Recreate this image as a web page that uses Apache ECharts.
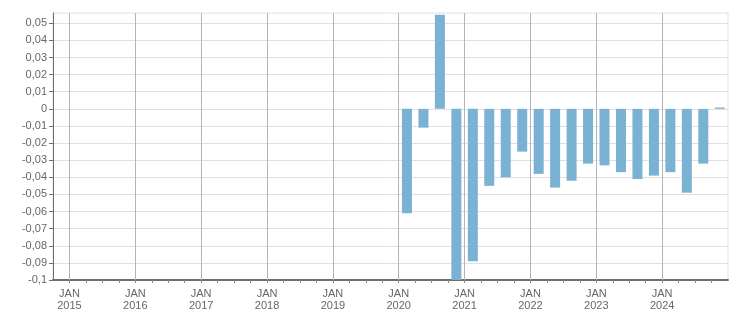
<!DOCTYPE html>
<html>
<head>
<meta charset="utf-8">
<script src="https://cdn.jsdelivr.net/npm/echarts@6/dist/echarts.min.js"></script>
<style>html,body{margin:0;padding:0;background:#fff}#c{width:751px;height:313px}</style>
</head>
<body>
<div id="c"></div>
<script>
const quarters = ['2020Q1','2020Q2','2020Q3','2020Q4','2021Q1','2021Q2','2021Q3','2021Q4','2022Q1','2022Q2','2022Q3','2022Q4','2023Q1','2023Q2','2023Q3','2023Q4','2024Q1','2024Q2','2024Q3','2024Q4'];
const values = [-0.061,-0.011,0.055,-0.1,-0.089,-0.045,-0.040,-0.025,-0.038,-0.046,-0.042,-0.032,-0.033,-0.037,-0.041,-0.039,-0.037,-0.049,-0.032,0.0008];
const yearTicks = [2015,2016,2017,2018,2019,2020,2021,2022,2023,2024];
const yTicks = [-0.1,-0.09,-0.08,-0.07,-0.06,-0.05,-0.04,-0.03,-0.02,-0.01,0,0.01,0.02,0.03,0.04,0.05];

// axis unit: quarters, 0 = Oct 2014, 1 = Jan 2015
const yearPos = y => (y - 2015) * 4 + 1;
const qCenter = s => (+s.slice(0,4) - 2015) * 4 + (+s.slice(5)) + 0.5;
const quarterBounds = [];
for (let i = 1; i <= 40; i++) quarterBounds.push(i);

const chart = echarts.init(document.getElementById('c'));
chart.setOption({
  animation: false,
  grid: { left: 53, right: 23, top: 13, bottom: 33, show: true, borderColor: '#e0e0e0', borderWidth: 1 },
  xAxis: {
    type: 'value', min: 0, max: 41,
    axisLine: { show: true, onZero: false, lineStyle: { color: '#6e6e6e', width: 2 } },
    axisTick: { show: true, length: 3, customValues: quarterBounds, lineStyle: { color: '#8a8a8a' } },
    axisLabel: {
      customValues: yearTicks.map(yearPos),
      formatter: v => 'JAN\n' + (Math.round((v - 1) / 4) + 2015),
      color: '#666', fontFamily: 'Liberation Sans', fontSize: 11, lineHeight: 12, margin: 8
    },
    splitLine: { show: false }
  },
  yAxis: {
    type: 'value', min: -0.1, max: 0.056, interval: 0.01,
    axisLine: { show: true, lineStyle: { color: '#6e6e6e', width: 1 } },
    axisTick: { show: true, length: 4, customValues: yTicks, lineStyle: { color: '#6e6e6e' } },
    axisLabel: {
      customValues: yTicks,
      formatter: v => Math.abs(v) < 1e-9 ? '0' : String(+v.toFixed(2)).replace('.', ','),
      color: '#666', fontFamily: 'Liberation Sans', fontSize: 11, margin: 6
    },
    splitLine: { show: true, lineStyle: { color: '#e0e0e0', width: 1 } }
  },
  series: [{
    type: 'bar',
    barWidth: 10,
    itemStyle: { color: '#7ab2d4' },
    data: quarters.map((q, i) => [qCenter(q), values[i]]),
    markLine: {
      silent: true, symbol: 'none', label: { show: false },
      lineStyle: { color: '#b4b4b4', type: 'solid', width: 1 },
      data: yearTicks.map(y => ({ xAxis: yearPos(y) }))
    }
  }]
});
</script>
</body>
</html>
